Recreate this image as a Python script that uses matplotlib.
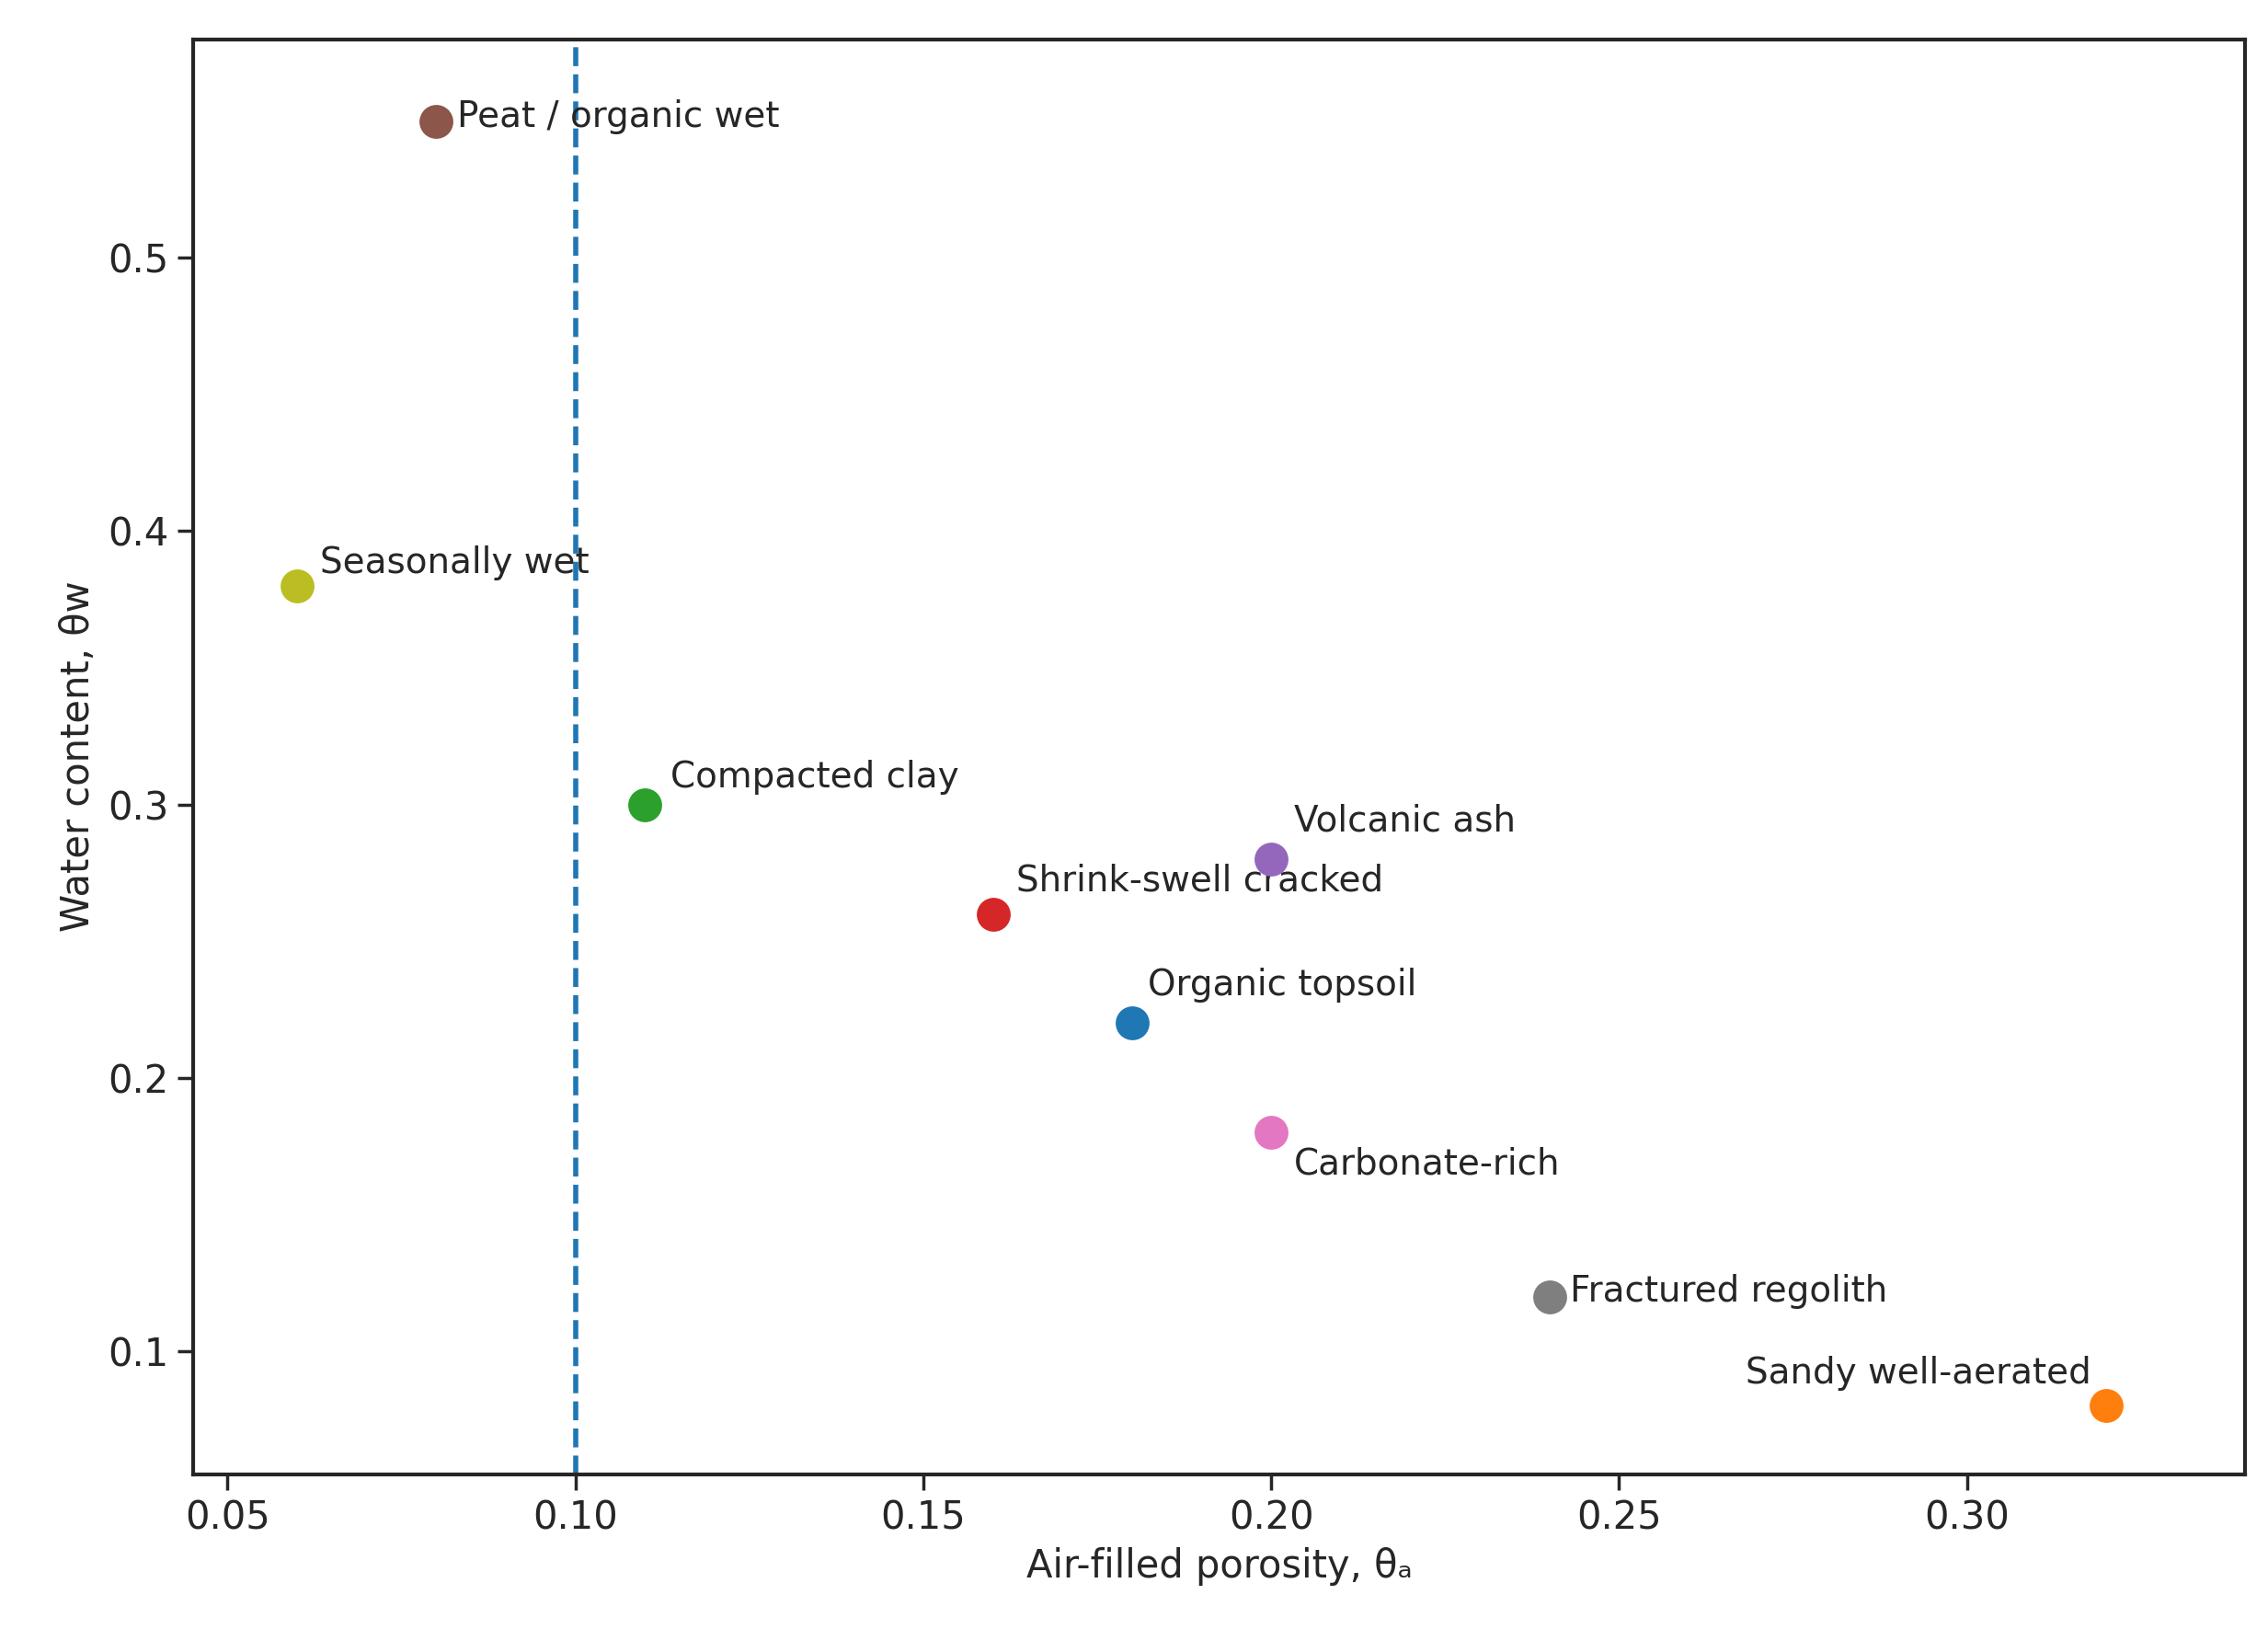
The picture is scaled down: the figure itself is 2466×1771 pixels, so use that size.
import matplotlib
matplotlib.use("Agg")
import matplotlib.pyplot as plt
import seaborn as sns

sns.set_theme(style="ticks")
plt.rcParams['font.family'] = ['DejaVu Sans']

names = ["Organic topsoil", "Sandy well-aerated", "Compacted clay", "Shrink-swell cracked",
         "Volcanic ash", "Peat / organic wet", "Carbonate-rich", "Fractured regolith",
         "Seasonally wet"]
air = [0.18, 0.32, 0.11, 0.16, 0.20, 0.08, 0.20, 0.24, 0.06]
water = [0.22, 0.08, 0.30, 0.26, 0.28, 0.55, 0.18, 0.12, 0.38]
offsets = [(6, 8), (-6, 6), (10, 4), (9, 6), (9, 8), (8, -5), (9, -19), (8, -5), (9, 2)]
aligns = ["left", "right", "left", "left", "left", "left", "left", "left", "left"]
colors = ["tab:blue", "tab:orange", "tab:green", "tab:red", "tab:purple",
          "tab:brown", "tab:pink", "tab:gray", "tab:olive"]

fig, ax = plt.subplots(figsize=(12.33, 8.855), dpi=200)
fig.subplots_adjust(left=0.085, right=0.99, top=0.976, bottom=0.095)

for n, x, y, c, off, ha in zip(names, air, water, colors, offsets, aligns):
    ax.scatter(x, y, s=150, color=c, zorder=3)
    ax.annotate(n, (x, y), xytext=off, textcoords="offset points", ha=ha,
                va="bottom", fontsize=14)

ax.axvline(0.10, color="tab:blue", linestyle="--", linewidth=2)
ax.set_xlim(0.045, 0.34)
ax.set_ylim(0.055, 0.58)
ax.set_xticks([0.05, 0.10, 0.15, 0.20, 0.25, 0.30])
ax.set_xticklabels(["0.05", "0.10", "0.15", "0.20", "0.25", "0.30"])
ax.tick_params(labelsize=15)
ax.set_xlabel("Air-filled porosity, θₐ", fontsize=15)
ax.set_ylabel("Water content, θw", fontsize=15)
for s in ax.spines.values():
    s.set_linewidth(1.5)

fig.savefig("out.png", dpi=200)
